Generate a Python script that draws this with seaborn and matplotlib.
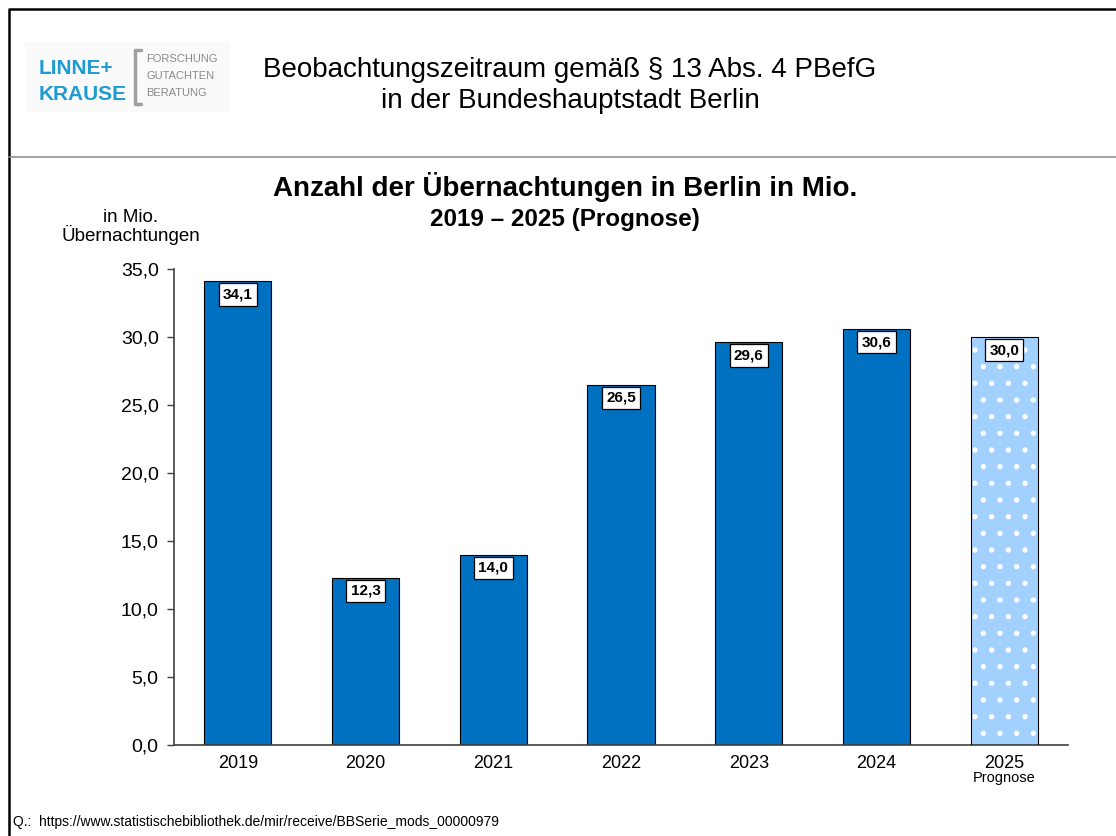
import matplotlib
matplotlib.use("Agg")
import matplotlib.pyplot as plt
import pandas as pd
import seaborn as sns
from matplotlib.lines import Line2D
from matplotlib.patches import Rectangle

years = ["2019", "2020", "2021", "2022", "2023", "2024", "2025"]
overnight_stays = [34.1, 12.3, 14.0, 26.5, 29.6, 30.6, 30.0]
bar_colors = ["#0070C0"] * 6 + ["#A3D1FF"]
y_ticks = [0, 5, 10, 15, 20, 25, 30, 35]

sns.set_style("white")
plt.rcParams["font.family"] = ["Liberation Sans", "DejaVu Sans"]
plt.rcParams["text.color"] = "black"
plt.rcParams["xtick.color"] = "black"
plt.rcParams["ytick.color"] = "black"
plt.rcParams["hatch.linewidth"] = 1.4

df = pd.DataFrame({"year": years, "value": overnight_stays})

fig = plt.figure(figsize=(11.16, 8.36), dpi=100)
ax = fig.add_axes([174 / 1116, 1 - 745 / 836, (1068 - 174) / 1116, (745 - 269) / 836])

sns.barplot(data=df, x="year", y="value", hue="year", palette=bar_colors,
            saturation=1, legend=False, width=0.525, edgecolor="black",
            linewidth=0.8, ax=ax)

# forecast bar: white dots (hatch follows edge colour), outline drawn on top
fc_bar = ax.patches[-1]
fc_bar.set_hatch(".")
fc_bar.set_edgecolor("white")
ax.add_patch(Rectangle((fc_bar.get_x(), fc_bar.get_y()), fc_bar.get_width(),
                       fc_bar.get_height(), fill=False, ec="black", lw=0.8, zorder=3))

# value labels
for i, v in enumerate(overnight_stays):
    ax.annotate(f"{v:.1f}".replace(".", ","), xy=(i, v), xytext=(0, -9.5),
                textcoords="offset points", ha="center", va="center",
                fontsize=11, fontweight="bold", zorder=5,
                bbox=dict(boxstyle="square,pad=0.28", fc="white", ec="black", lw=0.9))

ax.set_ylim(0, 35)
ax.set_xlim(-0.5, len(years) - 0.5)
ax.set_yticks(y_ticks)
ax.set_yticklabels([f"{t:.1f}".replace(".", ",") for t in y_ticks], fontsize=14)
ax.set_xticks(range(len(years)))
ax.set_xticklabels(years, fontsize=13)
ax.set_xticks([i - 0.5 for i in range(len(years) + 1)], minor=True)
ax.tick_params(axis="x", which="major", length=0, pad=7)
ax.tick_params(axis="x", which="minor", length=5, width=1, color="#404040", direction="out")
ax.tick_params(axis="y", length=5, width=1, color="#404040", direction="out", left=True, pad=6)
ax.set_xlabel("")
ax.set_ylabel("")
for side in ["top", "right"]:
    ax.spines[side].set_visible(False)
for side in ["left", "bottom"]:
    ax.spines[side].set_color("#404040")
    ax.spines[side].set_linewidth(1.2)

ax.text(6, -0.055, "Prognose", transform=ax.get_xaxis_transform(),
        ha="center", va="top", fontsize=10.5)

# titles
fig.text(565 / 1116, 1 - 187 / 836, "Anzahl der Übernachtungen in Berlin in Mio.",
         ha="center", va="center", fontsize=20, fontweight="bold")
fig.text(565 / 1116, 1 - 220 / 836, "2019 – 2025 (Prognose)",
         ha="center", va="center", fontsize=17.5, fontweight="bold")
fig.text(131 / 1116, 1 - 227 / 836, "in Mio.\nÜbernachtungen",
         ha="center", va="center", fontsize=13.5, linespacing=0.95)

# header
fig.text(570 / 1116, 1 - 70 / 836, "Beobachtungszeitraum gemäß § 13 Abs. 4 PBefG",
         ha="center", va="center", fontsize=20)
fig.text(570 / 1116, 1 - 101 / 836, "in der Bundeshauptstadt Berlin",
         ha="center", va="center", fontsize=20)

# logo
fig.patches.append(Rectangle((25 / 1116, 1 - 112 / 836), 205 / 1116, 70 / 836,
                             transform=fig.transFigure, fc="#FAFAFA", ec="none", zorder=0))
fig.text(39 / 1116, 1 - 68 / 836, "LINNE+", ha="left", va="center",
         fontsize=15, fontweight="bold", color="#1E9BD3")
fig.text(39 / 1116, 1 - 95 / 836, "KRAUSE", ha="left", va="center",
         fontsize=15, fontweight="bold", color="#1E9BD3")
bx = 135 / 1116
fig.add_artist(Line2D([bx + 6 / 1116, bx, bx, bx + 6 / 1116],
                      [1 - 50 / 836, 1 - 50 / 836, 1 - 104 / 836, 1 - 104 / 836],
                      transform=fig.transFigure, color="#A0A0A0", lw=2.5))
for k, word in enumerate(["FORSCHUNG", "GUTACHTEN", "BERATUNG"]):
    fig.text(146 / 1116, 1 - (59 + k * 17) / 836, word, ha="left", va="center",
             fontsize=8, color="#8A8A8A")

# frame and separator
fig.add_artist(Line2D([9 / 1116, 9 / 1116, 1], [0, 1 - 9 / 836, 1 - 9 / 836],
                      transform=fig.transFigure, color="black", lw=1.8))
fig.add_artist(Line2D([9 / 1116, 1], [1 - 157 / 836, 1 - 157 / 836],
                      transform=fig.transFigure, color="#909090", lw=1.2))

# source
fig.text(13 / 1116, 1 - 822 / 836,
         "Q.:  https://www.statistischebibliothek.de/mir/receive/BBSerie_mods_00000979",
         ha="left", va="center", fontsize=10)

fig.savefig("out.png", dpi=100)
